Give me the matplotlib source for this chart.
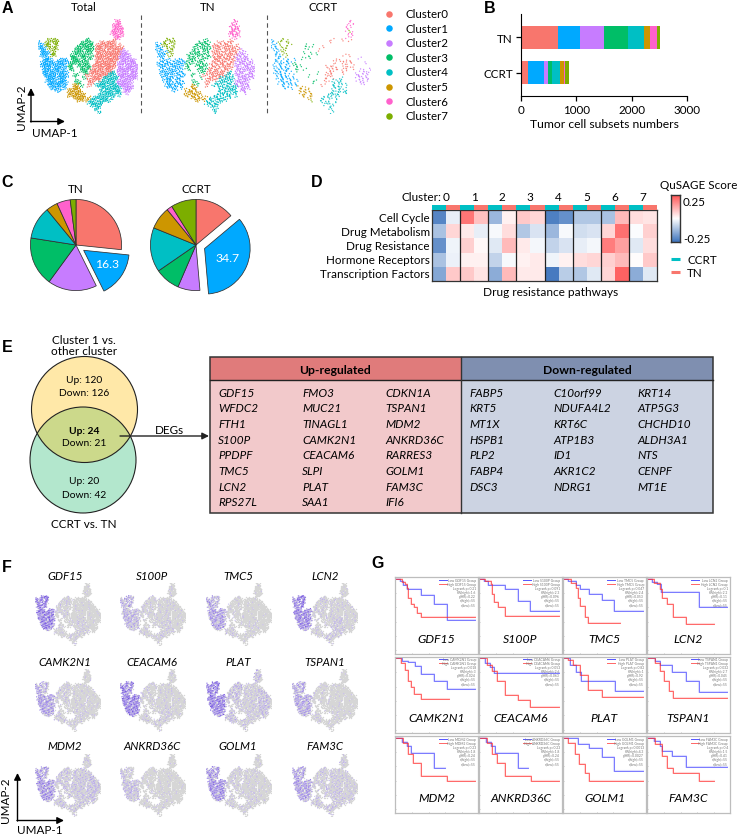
import numpy as np
import matplotlib
matplotlib.use("Agg")
import matplotlib.pyplot as plt
from matplotlib.colors import LinearSegmentedColormap, to_rgb
from matplotlib.patches import Circle, Rectangle

plt.rcParams['font.family'] = ['Lato', 'DejaVu Sans']

W, H = 738, 837

cluster_names = ['Cluster0', 'Cluster1', 'Cluster2', 'Cluster3', 'Cluster4', 'Cluster5', 'Cluster6', 'Cluster7']
cluster_colors = ['#F8766D', '#00A9FF', '#C77CFF', '#00BE67', '#00BFC4', '#CD9600', '#FF61CC', '#7CAE00']

umap_total = [
    "...............................66.......",
    "...............................66.......",
    "..............................666.......",
    "..............................6666......",
    "..............................6666......",
    ".............................66666......",
    "..............................6666......",
    "...............................66.......",
    "....7777...........33.........0.........",
    "1..77.77.........33333...000000.........",
    "11.77..7........333333.00000000.0.......",
    "111.7.77.......33.3333.000.0000000......",
    ".11..77........333.333.0000.00000.2.....",
    ".1111.7.......3333.33..0000000000222....",
    ".111.77......333.333.3.000.0000002222...",
    "..11.........333.33.33.00000000022222...",
    "..1111..1111.3333.33...000000000.222222.",
    ".11111111111.333.333...00000000.2222222.",
    ".1111111111.33..33333.000000000.22.22222",
    "..111.11111.33...3333.0000.0000.22222222",
    "..1111111.1..3...333.000000000..22222222",
    "..1111111111......33.0000000044.2222.222",
    "..11111.1111..33...00.000000444.22222222",
    "...11111111.......3..00000444444.2222222",
    "...1111.111....3....000.0.44444.222222..",
    "....11111111...33...00..4444444.22222...",
    "....1111111...55.3..0..4444.4444222222..",
    ".....1111.1...555........44444444.2222..",
    ".......11...55555........4.444444.222...",
    "............555555.......44444.44..2....",
    "............5555555.....44.4444.4.......",
    "..............55555.5.444444.4..........",
    "................55.5.44.44444...........",
    "....................444444..............",
    ".....................4444...............",
    ".......................44...............",
    ".......................4................",
    "........................4...............",
]
umap_ccrt = [
    "...............................6........",
    "...............................66.......",
    "..............................6.6.......",
    "..............................66........",
    "...............................7........",
    "..............................6.6.......",
    "...............................66.......",
    "..............................6.........",
    "1..7777.................0...0..0........",
    "11.7...7...............0................",
    "11..7.7.......3.3.......................",
    "111.7.7......3.3....0...................",
    ".11.77.............0....................",
    ".11.7........3.3..3.....................",
    ".1.1.77......................0.0........",
    "..111.......3.33...................2....",
    "..11..11.1...............0.0.0..........",
    ".111.111.3................0.0.000....2..",
    ".1.1111.3.33..........0.0.....0.0.......",
    "..1111.1.33............0000..00.0.......",
    ".1111.11..3..3.........0.0..00.....2.2.2",
    ".11.111...........3...000...0.....2.222.",
    "..1111.11......3......0.0.........22.2..",
    "..11111.1.............0.0...4.....2.222.",
    "...111.11.1......3...00.4.44......22.22.",
    "...1111.11.......3...0...44.4......2.2..",
    "....111.11..........0...444.44..........",
    ".....11.1..55.5..........444.4..........",
    "...........5555.........4.44.4..........",
    "...........55555.......44444.44.........",
    "............55.55.....4.44.4............",
    "..............5.5...444.44..............",
    "................7..4...4.4..............",
    "....................44.4.4..............",
    ".....................4.4................",
    ".......................44...............",
    "........................4...............",
    "........................4...............",
]

# panel B, cells per cluster
tn_counts = [667, 401, 436, 436, 290, 103, 120, 51]
ccrt_counts = [120, 300, 68, 77, 136, 69, 17, 77]
bar_groups = ['CCRT', 'TN']
bar_ticks = [0, 1000, 2000, 3000]

# panel D, qusage scores, two columns (CCRT, TN) per cluster
pathways = ['Cell Cycle', 'Drug Metabolism', 'Drug Resistance', 'Hormone Receptors', 'Transcription Factors']
scores = [
    [-0.22, -0.03, 0.20, 0.09, -0.13, 0.02, 0.08, 0.06, -0.23, -0.20, -0.10, -0.10, -0.11, 0.10, 0.05, 0.04],
    [-0.11, 0.06, 0.03, -0.03, -0.01, 0.05, -0.10, -0.05, -0.13, -0.01, -0.06, -0.05, 0.06, 0.21, -0.005, 0.07],
    [-0.20, -0.02, 0.07, 0.01, -0.04, 0.10, 0.03, -0.015, -0.08, -0.05, -0.03, -0.015, 0.19, 0.14, -0.04, 0.05],
    [-0.11, -0.025, 0.02, 0.02, -0.08, -0.01, 0.02, 0.03, -0.02, 0.02, 0.05, 0.06, 0.07, 0.10, 0.005, 0.08],
    [-0.16, 0.08, 0.08, 0.04, -0.15, 0.10, 0.03, 0.03, -0.24, -0.09, -0.10, -0.04, 0.06, 0.23, -0.15, -0.04],
]

# panel E
up_genes = [
    ['GDF15', 'WFDC2', 'FTH1', 'S100P', 'PPDPF', 'TMC5', 'LCN2', 'RPS27L'],
    ['FMO3', 'MUC21', 'TINAGL1', 'CAMK2N1', 'CEACAM6', 'SLPI', 'PLAT', 'SAA1'],
    ['CDKN1A', 'TSPAN1', 'MDM2', 'ANKRD36C', 'RARRES3', 'GOLM1', 'FAM3C', 'IFI6'],
]
down_genes = [
    ['FABP5', 'KRT5', 'MT1X', 'HSPB1', 'PLP2', 'FABP4', 'DSC3'],
    ['C10orf99', 'NDUFA4L2', 'KRT6C', 'ATP1B3', 'ID1', 'AKR1C2', 'NDRG1'],
    ['KRT14', 'ATP5G3', 'CHCHD10', 'ALDH3A1', 'NTS', 'CENPF', 'MT1E'],
]

# panel F and G genes
genes = ['GDF15', 'S100P', 'TMC5', 'LCN2', 'CAMK2N1', 'CEACAM6', 'PLAT', 'TSPAN1',
         'MDM2', 'ANKRD36C', 'GOLM1', 'FAM3C']
# share of expressing cells by cluster 0..7
expr = {
    'GDF15': [.03, .60, .02, .08, .10, .05, .03, .70],
    'S100P': [.06, .25, .04, .08, .10, .08, .05, .40],
    'TMC5': [.02, .40, .01, .05, .05, .10, .02, .30],
    'LCN2': [.07, .55, .05, .10, .15, .10, .05, .70],
    'CAMK2N1': [.05, .40, .05, .10, .10, .10, .05, .30],
    'CEACAM6': [.05, .60, .04, .08, .10, .10, .05, .60],
    'PLAT': [.10, .60, .20, .20, .12, .20, .20, .70],
    'TSPAN1': [.03, .35, .02, .05, .05, .08, .03, .40],
    'MDM2': [.15, .45, .20, .15, .15, .15, .10, .40],
    'ANKRD36C': [.03, .20, .02, .04, .05, .05, .02, .15],
    'GOLM1': [.06, .50, .04, .10, .08, .10, .05, .50],
    'FAM3C': [.12, .40, .10, .12, .15, .15, .10, .40],
}

# survival curves: months, percent survival for low and high group
km_low = {
    'GDF15': ([0, 6, 10, 14, 31, 46, 62, 96], [100, 97, 91, 85, 77, 64, 42, 42]),
    'S100P': ([0, 6, 11, 31, 46, 61, 96], [100, 97, 91, 85, 69, 55, 55]),
    'TMC5': ([0, 6, 16, 20, 31, 46, 61, 96], [100, 97, 91, 85, 79, 70, 55, 55]),
    'LCN2': ([0, 6, 12, 17, 62, 96], [100, 96, 92, 82, 61, 61]),
    'CAMK2N1': ([0, 8, 16, 24, 31, 46, 62, 96], [100, 96, 94, 89, 78, 68, 57, 57]),
    'CEACAM6': ([0, 7, 13, 18, 96], [100, 93, 87, 79, 79]),
    'PLAT': ([0, 8, 16, 22, 62, 96], [100, 91, 80, 68, 54, 54]),
    'TSPAN1': ([0, 10, 16, 30, 46, 62, 96], [100, 96, 91, 80, 68, 52, 52]),
    'MDM2': ([0, 8, 14, 19, 46, 60], [100, 94, 88, 78, 58, 58]),
    'ANKRD36C': ([0, 8, 14, 19, 46, 59], [100, 94, 88, 78, 58, 58]),
    'GOLM1': ([0, 18, 31, 46, 61, 96], [100, 91, 85, 73, 54, 54]),
    'FAM3C': ([0, 8, 16, 18, 30, 46, 96], [100, 95, 88, 81, 74, 59, 59]),
}
km_high = {
    'GDF15': ([0, 8, 12, 14, 16, 19, 23, 26, 31, 96], [100, 96, 92, 87, 73, 64, 60, 52, 47, 47]),
    'S100P': ([0, 7, 14, 16, 18, 23, 31, 96], [100, 97, 92, 78, 67, 60, 48, 48]),
    'TMC5': ([0, 10, 15, 18, 20, 26, 30, 68], [100, 94, 87, 73, 62, 46, 38, 38]),
    'LCN2': ([0, 8, 16, 18, 24, 31, 46, 80], [100, 94, 85, 73, 64, 46, 36, 36]),
    'CAMK2N1': ([0, 7, 12, 16, 19, 23, 31, 64], [100, 93, 84, 68, 59, 50, 43, 43]),
    'CEACAM6': ([0, 9, 16, 21, 31, 46, 61, 96], [100, 91, 82, 68, 48, 41, 32, 32]),
    'PLAT': ([0, 6, 12, 20, 30, 46, 96], [100, 98, 91, 77, 55, 46, 46]),
    'TSPAN1': ([0, 10, 16, 20, 26, 31, 96], [100, 93, 82, 68, 54, 45, 45]),
    'MDM2': ([0, 10, 16, 22, 31, 62, 96], [100, 93, 77, 65, 46, 39, 39]),
    'ANKRD36C': ([0, 10, 16, 22, 31, 62, 96], [100, 93, 77, 65, 46, 39, 39]),
    'GOLM1': ([0, 6, 14, 19, 26, 31, 96], [100, 93, 77, 63, 50, 40, 40]),
    'FAM3C': ([0, 10, 18, 24, 31, 62, 80], [100, 91, 74, 58, 50, 40, 40]),
}
km_stats = {
    'GDF15': ['Logrank p=0.21', 'HR(high)=1.6', 'p(HR)=0.22'],
    'S100P': ['Logrank p=0.091', 'HR(high)=2.3', 'p(HR)=0.096'],
    'TMC5': ['Logrank p=0.047', 'HR(high)=2.4', 'p(HR)=0.053'],
    'LCN2': ['Logrank p=0.1', 'HR(high)=2.2', 'p(HR)=0.11'],
    'CAMK2N1': ['Logrank p=0.018', 'HR(high)=3', 'p(HR)=0.024'],
    'CEACAM6': ['Logrank p=0.053', 'HR(high)=2.6', 'p(HR)=0.063'],
    'PLAT': ['Logrank p=0.82', 'HR(high)=1', 'p(HR)=0.92'],
    'TSPAN1': ['Logrank p=0.032', 'HR(high)=2.7', 'p(HR)=0.045'],
    'MDM2': ['Logrank p=0.23', 'HR(high)=1.8', 'p(HR)=0.24'],
    'ANKRD36C': ['Logrank p=0.23', 'HR(high)=1.8', 'p(HR)=0.24'],
    'GOLM1': ['Logrank p=0.0013', 'HR(high)=4.3', 'p(HR)=0.0027'],
    'FAM3C': ['Logrank p=0.4', 'HR(high)=1.5', 'p(HR)=0.41'],
}


def ax_px(x0, y0, x1, y1):
    # axes from pixel box, y counted from the top
    return fig.add_axes([x0 / W, 1 - y1 / H, (x1 - x0) / W, (y1 - y0) / H])


def read_map(rows):
    cols, rws, ids = [], [], []
    for r, row in enumerate(rows):
        for c, ch in enumerate(row):
            if ch != '.':
                cols.append(c)
                rws.append(r)
                ids.append(int(ch))
    return np.array(cols), np.array(rws), np.array(ids)


def spread(cols, rows, ids, n):
    # n dots inside every grid spot so the grid does not show
    cols = np.repeat(cols, n)
    rows = np.repeat(rows, n)
    ids = np.repeat(ids, n)
    k = np.arange(len(cols))
    x = cols - .3 + 1.6 * ((k * .7549) % 1)
    y = rows - .3 + 1.6 * ((k * .5698) % 1)
    return x, y, ids


def umap_axes(x0, y0, scale):
    ax = ax_px(x0, y0, x0 + 40 * 2.5 * scale, y0 + 38 * 2.5 * scale)
    ax.set_xlim(0, 40)
    ax.set_ylim(38, 0)
    ax.axis('off')
    return ax


fig = plt.figure(figsize=(W / 100, H / 100), dpi=100)
page = fig.add_axes([0, 0, 1, 1])
page.set_xlim(0, W)
page.set_ylim(H, 0)
page.axis('off')
page.set_zorder(10)

# panel letters
for letter, x, y in [('A', 7, 8), ('B', 490, 8), ('C', 7, 182), ('D', 317, 182),
                     ('E', 7, 347), ('F', 7, 567), ('G', 378, 564)]:
    page.text(x, y, letter, family='Liberation Sans', weight='bold', fontsize=11.5, ha='center', va='center')

# A
c_all, r_all, id_all = read_map(umap_total)
c_cc, r_cc, id_cc = read_map(umap_ccrt)
point_cols = np.array(cluster_colors)

ax = umap_axes(38, 20, 1)
x, y, ids = spread(c_all, r_all, id_all, 5)
ax.scatter(x, y, c=point_cols[ids], s=.9, lw=0)

ax = umap_axes(155, 20, 1)
x, y, ids = spread(c_all, r_all, id_all, 3)
ax.scatter(x, y, c=point_cols[ids], s=.9, lw=0)

ax = umap_axes(271, 20, 1)
x, y, ids = spread(c_cc, r_cc, id_cc, 2)
ax.scatter(x, y, c=point_cols[ids], s=1.0, lw=0, alpha=.85)

for title, x_t in zip(['Total', 'TN', 'CCRT'], [84, 208, 323]):
    page.text(x_t, 7, title, fontsize=8.3, ha='center', va='center')
for x_d in [140.5, 267]:
    page.plot([x_d, x_d], [16, 117], color='#555555', lw=.8, ls=(0, (4, 3)))
for i, name in enumerate(cluster_names):
    y_l = 14.5 + i * 14.6
    page.scatter([389], [y_l], s=22, color=cluster_colors[i], lw=0)
    page.text(405, y_l, name, fontsize=8.3, va='center')

page.annotate('', xy=(31, 89), xytext=(31, 123), arrowprops=dict(arrowstyle='-|>', color='k', lw=1, shrinkA=0, shrinkB=0))
page.annotate('', xy=(65, 122.5), xytext=(30.5, 122.5), arrowprops=dict(arrowstyle='-|>', color='k', lw=1, shrinkA=0, shrinkB=0))
page.text(21, 107, 'UMAP-2', rotation=90, fontsize=8.4, ha='center', va='center')
page.text(55, 133, 'UMAP-1', fontsize=8.4, ha='center', va='center')

# B
ax = ax_px(521, 15, 687, 97)
left_tn, left_cc = 0, 0
for i in range(8):
    ax.barh(1, tn_counts[i], left=left_tn, height=.66, color=cluster_colors[i])
    ax.barh(0, ccrt_counts[i], left=left_cc, height=.66, color=cluster_colors[i])
    left_tn += tn_counts[i]
    left_cc += ccrt_counts[i]
ax.set_xlim(0, 3000)
ax.set_ylim(-.67, 1.67)
ax.set_xticks(bar_ticks)
ax.set_yticks([0, 1])
ax.set_yticklabels(bar_groups)
ax.tick_params(labelsize=8.4, length=3.5, width=.9, pad=2.5)
ax.spines['top'].set_visible(False)
ax.spines['right'].set_visible(False)
ax.set_xlabel('Tumor cell subsets numbers', fontsize=8.7, labelpad=2)

# C
for counts, title, cx, label, lab_x, lab_y in [(tn_counts, 'TN', 76, '16.3', 107, 264),
                                               (ccrt_counts, 'CCRT', 196, '34.7', 228, 258)]:
    ax = ax_px(cx - 64, 246 - 64, cx + 64, 246 + 64)
    ax.pie(counts, colors=cluster_colors, startangle=90, counterclock=False, radius=.712,
           explode=[0, .145, 0, 0, 0, 0, 0, 0], center=(0, 0),
           wedgeprops=dict(edgecolor='#303030', lw=.55))
    ax.set_xlim(-1, 1)
    ax.set_ylim(-1, 1)
    page.text(cx, 189.5, title, fontsize=8.4, ha='center', va='center')
    page.text(lab_x, lab_y, label, fontsize=8.8, color='white', ha='center', va='center')

# D
score_cmap = LinearSegmentedColormap.from_list('qusage', ['#3F75BD', '#FFFFFF', '#FF5555'])
ax = ax_px(432, 211, 657, 282)
ax.pcolormesh(np.array(scores), cmap=score_cmap, vmin=-.25, vmax=.25)
ax.set_ylim(5, 0)
ax.set_xticks([])
ax.set_yticks([])
for s in ax.spines.values():
    s.set_linewidth(.9)
    s.set_color('#333333')
for i in range(1, 8):
    ax.axvline(i * 2, color='#222222', lw=.9)
ax_s = ax_px(432, 206, 657, 210.5)
ax_s.axis('off')
ax_s.set_xlim(0, 16)
ax_s.set_ylim(0, 1)
for i in range(16):
    ax_s.bar(i + .5, 1, width=1, color='#00BFC4' if i % 2 == 0 else '#F8766D')
page.text(441, 197, 'Cluster:', fontsize=8.5, ha='right', va='center')
for i in range(8):
    page.text(446 + 28.1 * i, 197, str(i), fontsize=8.5, ha='center', va='center')
for i, name in enumerate(pathways):
    page.text(430, 218 + i * 14.2, name, fontsize=8.4, ha='right', va='center')
page.text(551, 292, 'Drug resistance pathways', fontsize=8.6, ha='center', va='center')
page.text(699, 185, 'QuSAGE Score', fontsize=8.4, ha='center', va='center')
ax = ax_px(671, 196, 680, 243)
ax.imshow(np.linspace(.25, -.25, 100)[:, None], aspect='auto', cmap=score_cmap, vmin=-.25, vmax=.25)
ax.set_xticks([])
ax.set_yticks([])
for s in ax.spines.values():
    s.set_linewidth(1)
    s.set_color('#333333')
page.text(683, 202, '0.25', fontsize=8.4, va='center')
page.text(683, 239, '-0.25', fontsize=8.4, va='center')
page.plot([671, 680], [260, 260], color='#00BFC4', lw=2.2, solid_capstyle='butt')
page.plot([671, 680], [273, 273], color='#F8766D', lw=2.2, solid_capstyle='butt')
page.text(687, 260, 'CCRT', fontsize=8.4, va='center')
page.text(687, 273, 'TN', fontsize=8.4, va='center')

# E
c1 = Circle((84.5, 410.5), 53, facecolor='#FFE8A8', edgecolor='none', zorder=1)
c2 = Circle((83, 461), 53, facecolor='#B3E7CD', edgecolor='none', zorder=1)
page.add_patch(c2)
page.add_patch(c1)
overlap = Circle((83, 461), 53, facecolor='#CCD98B', edgecolor='none', zorder=2)
page.add_patch(overlap)
overlap.set_clip_path(c1)
page.add_patch(Circle((84.5, 410.5), 53, fill=False, edgecolor='#222222', lw=.8, zorder=3))
page.add_patch(Circle((83, 461), 53, fill=False, edgecolor='#222222', lw=.8, zorder=3))
venn_texts = [('Cluster 1 vs.', 340, 'normal'), ('other cluster', 351, 'normal'), ('Up: 120', 380, 'normal'),
              ('Down: 126', 393, 'normal'), ('Up: 24', 431, 'bold'), ('Down: 21', 444, 'normal'),
              ('Up: 20', 482, 'normal'), ('Down: 42', 495, 'normal'), ('CCRT vs. TN', 525, 'normal')]
for txt, y_t, wt in venn_texts:
    fs = 8.5 if y_t in (340, 351, 525) else 7.4
    page.text(84, y_t, txt, fontsize=fs, weight=wt, ha='center', va='center', zorder=4)
page.annotate('', xy=(209, 437), xytext=(120, 437), zorder=4,
              arrowprops=dict(arrowstyle='-|>', color='#222222', lw=1, shrinkA=0, shrinkB=0))
page.text(169, 430, 'DEGs', fontsize=8.4, ha='center', va='center')

page.add_patch(Rectangle((209.5, 358), 251.5, 23, facecolor='#E07B7B', edgecolor='none'))
page.add_patch(Rectangle((461, 358), 252, 23, facecolor='#7F8FB0', edgecolor='none'))
page.add_patch(Rectangle((209.5, 381), 251.5, 133, facecolor='#F2C9CB', edgecolor='none'))
page.add_patch(Rectangle((461, 381), 252, 133, facecolor='#CCD3E2', edgecolor='none'))
page.add_patch(Rectangle((209.5, 358), 503.5, 156, fill=False, edgecolor='#333333', lw=1.1))
page.plot([209.5, 713], [381, 381], color='#222222', lw=1)
page.plot([461, 461], [358, 514], color='#333333', lw=1)
page.text(335, 370, 'Up-regulated', fontsize=8.7, weight='bold', ha='center', va='center')
page.text(587, 370, 'Down-regulated', fontsize=8.7, weight='bold', ha='center', va='center')
for col_x, col in zip([218, 302, 385], up_genes):
    for i, g in enumerate(col):
        page.text(col_x, 393.3 + i * 15.67, g, fontsize=8.5, style='italic', va='center')
for col_x, col in zip([469, 553, 637], down_genes):
    for i, g in enumerate(col):
        page.text(col_x, 393.3 + i * 15.67, g, fontsize=8.5, style='italic', va='center')

# F
gray = np.array(to_rgb('#D6D6D6'))
light = np.array(to_rgb('#CDC2F2'))
deep = np.array(to_rgb('#6A48E0'))
f_x = [35, 120, 206, 292]
f_y = [584, 670, 755]
f_title_x = [65, 152, 238, 325]
f_title_y = [576, 662, 747]
x_f, y_f, id_f = spread(c_all, r_all, id_all, 5)
for g_i, gene in enumerate(genes):
    col, row = g_i % 4, g_i // 4
    ax = umap_axes(f_x[col], f_y[row], .65)
    level = np.array(expr[gene])[id_f]
    thr = (np.arange(len(id_f)) * .618 + g_i * .37) % 1
    on = thr < level
    strength = np.clip((level - thr) / .6, 0, 1)[:, None]
    colors = light * (1 - strength) + deep * strength
    ax.scatter(x_f[~on], y_f[~on], color=gray, s=1.0, lw=0)
    ax.scatter(x_f[on], y_f[on], color=colors[on], s=.8, lw=0)
    page.text(f_title_x[col], f_title_y[row], gene, fontsize=8.3, style='italic', ha='center', va='center')
page.annotate('', xy=(17.5, 774), xytext=(17.5, 822), arrowprops=dict(arrowstyle='-|>', color='k', lw=1, shrinkA=0, shrinkB=0))
page.annotate('', xy=(64, 821.5), xytext=(17, 821.5), arrowprops=dict(arrowstyle='-|>', color='k', lw=1, shrinkA=0, shrinkB=0))
page.text(6, 800, 'UMAP-2', rotation=90, fontsize=8.4, ha='center', va='center')
page.text(40, 831, 'UMAP-1', fontsize=8.4, ha='center', va='center')

# G
g_x = [395, 479, 563, 647]
g_y = [578, 657.5, 737]
box_w, box_h = 83, 76.5
for g_i, gene in enumerate(genes):
    col, row = g_i % 4, g_i // 4
    x0, y0 = g_x[col], g_y[row]
    ax = ax_px(x0, y0, x0 + box_w, y0 + box_h)
    t, s = km_low[gene]
    ax.step(t, s, where='post', color='#3A3AFF', lw=.6, alpha=.7)
    ax.step(t, s, where='post', color='#3A3AFF', lw=1.5, alpha=.18)
    t, s = km_high[gene]
    ax.step(t, s, where='post', color='#FF2A2A', lw=.6, alpha=.75)
    ax.step(t, s, where='post', color='#FF2A2A', lw=1.5, alpha=.18)
    ax.set_xlim(0, 99)
    ax.set_ylim(-4.6, 102.3)
    ax.set_xticks([0, 20, 40, 60, 80])
    ax.set_yticks([0, 20, 40, 60, 80, 100])
    ax.tick_params(length=1, width=.4, color='#999999', labelbottom=False, labelleft=False, direction='in')
    for sp in ax.spines.values():
        sp.set_color('#BDBDBD')
        sp.set_linewidth(.9)
    lines = ['Low %s Group' % gene, 'High %s Group' % gene] + km_stats[gene] + ['n(high)=55', 'n(low)=55']
    for i, txt in enumerate(lines):
        ax.text(.975, .965 - i * .053, txt, transform=ax.transAxes, fontsize=2.4, color='#777777', ha='right', va='center')
    ax.plot([.53, .63], [.965, .965], transform=ax.transAxes, color='#5555FF', lw=.7)
    ax.plot([.53, .63], [.912, .912], transform=ax.transAxes, color='#FF6666', lw=.7)
    ax.text(.5, .2, gene, transform=ax.transAxes, fontsize=8.8, style='italic', ha='center', va='center')

fig.savefig('out.png', dpi=100)
